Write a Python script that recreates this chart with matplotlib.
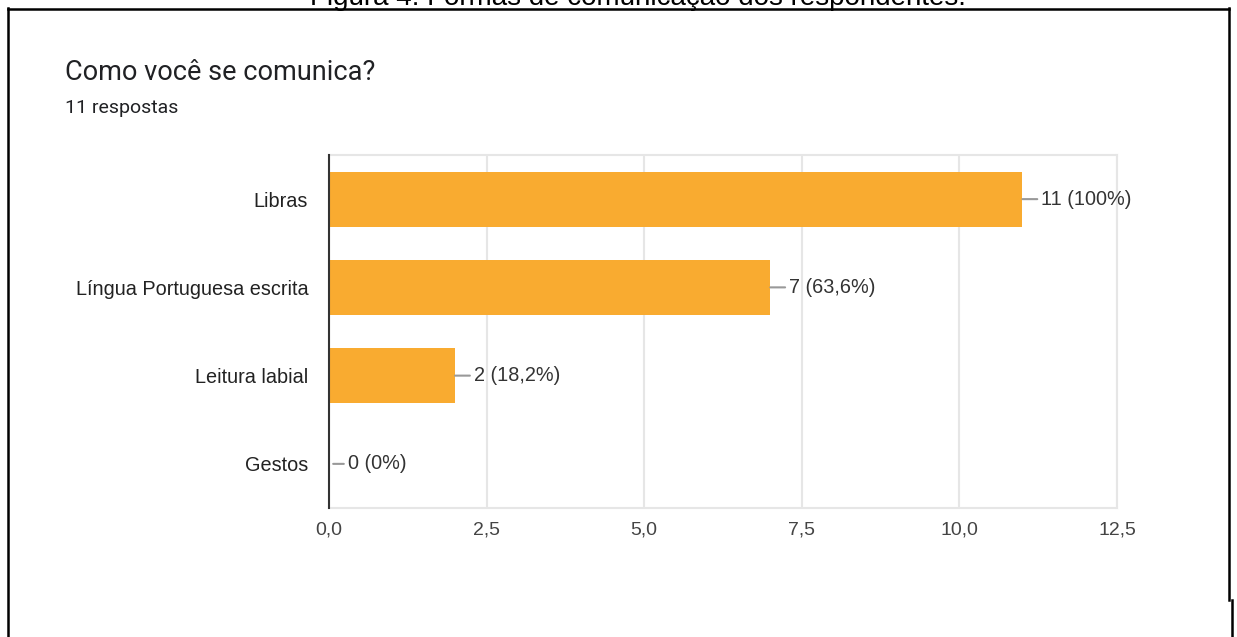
import matplotlib.pyplot as plt
from matplotlib.lines import Line2D
from matplotlib.ticker import FuncFormatter

# Data
categorias = ["Libras", "Língua Portuguesa escrita", "Leitura labial", "Gestos"]
respostas = [11, 7, 2, 0]
percentuais = ["100%", "63,6%", "18,2%", "0%"]
total = 11

W, H = 1237, 637
fig = plt.figure(figsize=(W / 100, H / 100), dpi=100)
fig.patch.set_facecolor("white")

ax = fig.add_axes([329 / W, 1 - 508 / H, (1117 - 329) / W, (508 - 155) / H])

y_pos = list(range(len(categorias)))
ax.barh(y_pos, respostas, height=0.625, color="#F9AB30", zorder=3)

ax.set_xlim(0, 12.5)
ax.set_ylim(len(categorias) - 0.5, -0.5)
ax.set_xticks([0, 2.5, 5, 7.5, 10, 12.5])
ax.xaxis.set_major_formatter(FuncFormatter(lambda v, p: f"{v:.1f}".replace(".", ",")))
ax.set_yticks(y_pos)
ax.set_yticklabels(categorias)

fam = ["Liberation Sans", "DejaVu Sans"]
for lab in ax.get_yticklabels():
    lab.set(family=fam, size=14.3, color="#222222")
for lab in ax.get_xticklabels():
    lab.set(family=fam, size=14, color="#444444")

ax.tick_params(axis="both", length=0)
ax.tick_params(axis="y", pad=15)
ax.tick_params(axis="x", pad=10)

ax.grid(axis="x", color="#e6e6e6", lw=1.5, zorder=0)
for s in ["top", "bottom", "right"]:
    ax.spines[s].set_color("#e6e6e6")
    ax.spines[s].set_linewidth(1.5)
ax.spines["left"].set_color("#333333")
ax.spines["left"].set_linewidth(1.5)
ax.spines["left"].set_zorder(4)

# value labels with leader lines
for i, (v, pct) in enumerate(zip(respostas, percentuais)):
    ax.annotate(f"{v} ({pct})", xy=(v, i), xytext=(19, 0), textcoords="offset pixels",
                va="center", ha="left", fontsize=14.3, color="#333333", family=fam,
                arrowprops=dict(arrowstyle="-", color="#999999", lw=1.5,
                                shrinkA=1, shrinkB=0 if v else 3))

# titles
fig.text(65 / W, 1 - 72 / H, "Como você se comunica?", fontsize=19.5,
         family=["Roboto", "DejaVu Sans"], color="#202124", va="center", ha="left")
fig.text(65 / W, 1 - 108 / H, f"{total} respostas", fontsize=14,
         family=["Roboto", "DejaVu Sans"], color="#202124", va="center", ha="left")

# caption cut at the top of the page
fig.text(638 / W, 1 - 5 / H, "Figura 4: Formas de comunicação dos respondentes.",
         fontsize=20, family=fam, color="black", va="baseline", ha="center")

# page frame
frame = [
    ([8, 8], [8, H]),
    ([8, 1229], [9, 9]),
    ([1229, 1229], [8, 600]),
    ([1232, 1232], [600, H]),
]
for xs, ys in frame:
    fig.add_artist(Line2D([x / W for x in xs], [1 - y / H for y in ys],
                          color="black", lw=1.8, transform=fig.transFigure))

fig.savefig("out.png", dpi=100, facecolor="white")
